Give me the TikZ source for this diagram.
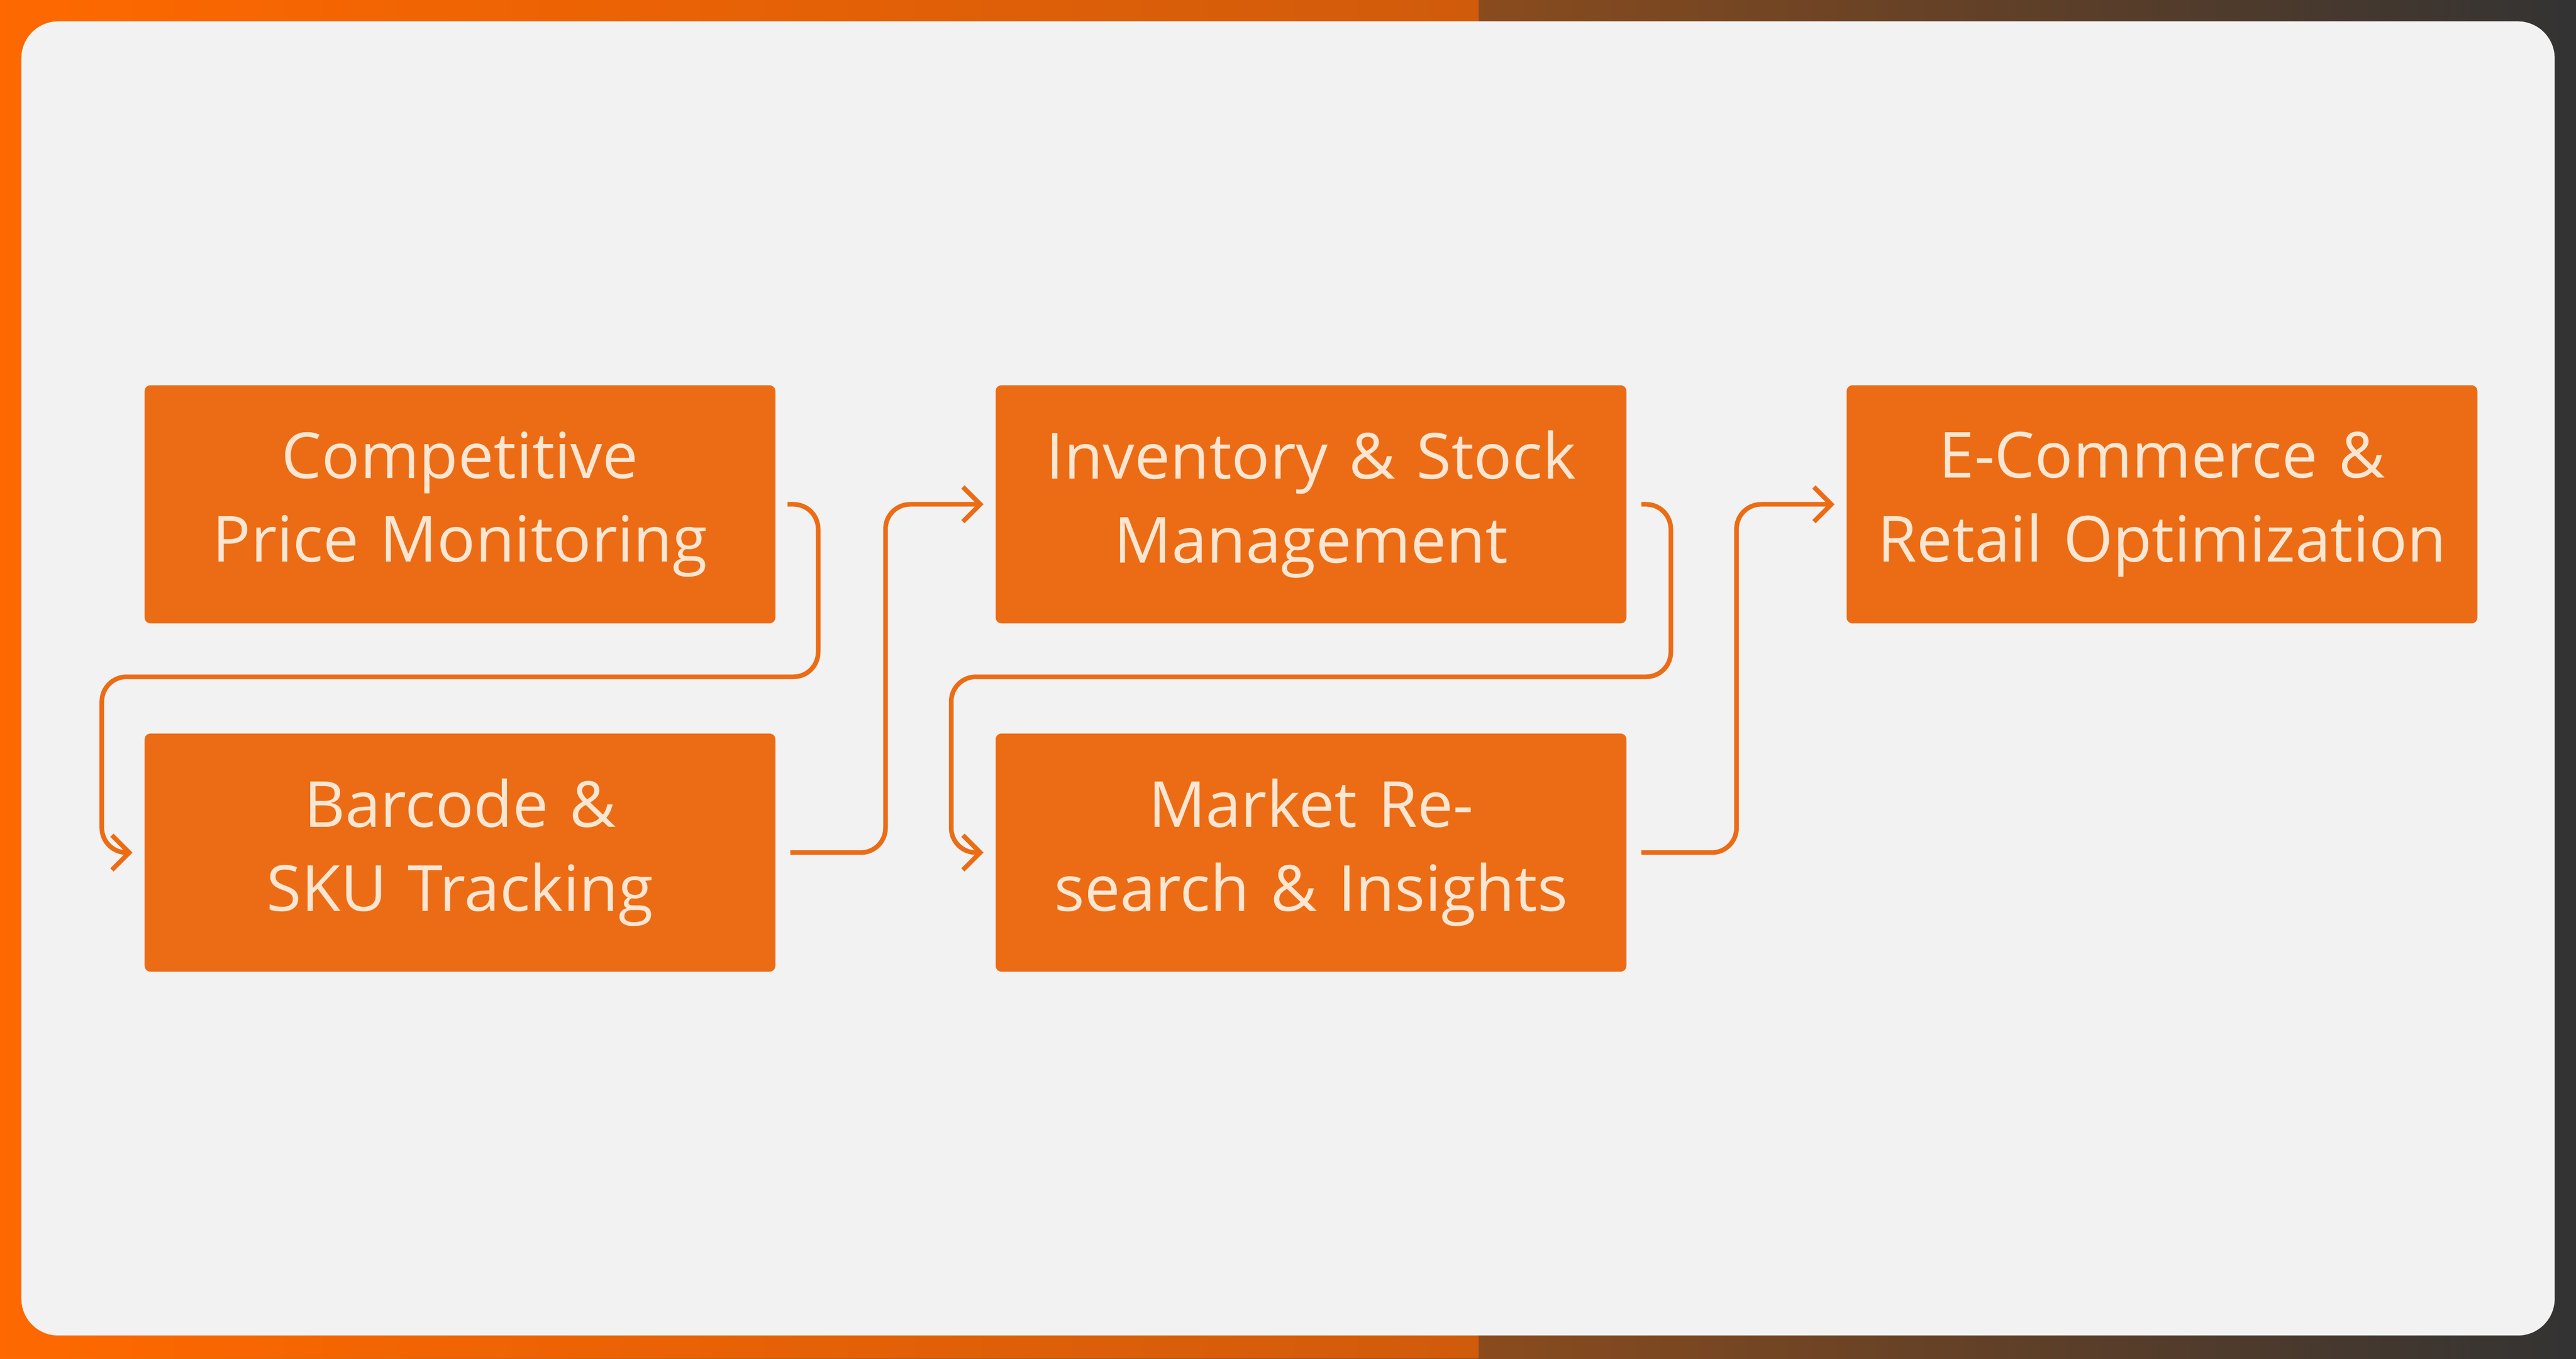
\documentclass[tikz,border=0pt]{standalone}
\usepackage{fontspec}
\setmainfont{Open Sans}
\usetikzlibrary{arrows.meta}
\definecolor{boxorange}{HTML}{EC6C15}
\definecolor{paneltone}{HTML}{F2F2F2}
\definecolor{textcream}{HTML}{FCE6D2}
\tikzset{
  stagebox/.style={fill=boxorange, rounded corners=2pt, minimum width=7.68cm,
    minimum height=2.9cm, text width=7cm, align=center, text=textcream,
    font=\fontsize{22}{29}\selectfont, inner sep=0pt},
  flowline/.style={draw=boxorange, line width=1.6pt, rounded corners=0.3cm,
    -{Straight Barb[length=6pt,width=12pt,line width=1.6pt]}}
}
\begin{document}
\begin{tikzpicture}[x=0.02cm,y=-0.02cm]
  \useasboundingbox (0,0) rectangle (1568,827);
  \shade[left color=orange!85!red, right color=black!80] (0,0) rectangle (1568,827);
  \fill[orange!80!red, opacity=0.6] (0,0) rectangle (900,827);
  \fill[paneltone, rounded corners=0.45cm] (13,13) rectangle (1555,813);

  \node[stagebox] (price) at (280,307) {Competitive Price Monitoring};
  \node[stagebox] (barcode) at (280,519) {Barcode \& SKU Tracking};
  \node[stagebox] (stock) at (798,307) {Inventory \& Stock Management};
  \node[stagebox] (market) at (798,519) {Market Research \& Insights};
  \node[stagebox] (retail) at (1316,307) {E-Commerce \& Retail Optimization};

  \draw[flowline] ([xshift=4pt]price.east) -| (498,412) -| (62,519) -- ([xshift=-4pt]barcode.west);
  \draw[flowline] ([xshift=5pt]barcode.east) -| (539,412) |- ([xshift=-4pt]stock.west);
  \draw[flowline] ([xshift=5pt]stock.east) -| (1017,412) -| (579,519) -- ([xshift=-4pt]market.west);
  \draw[flowline] ([xshift=5pt]market.east) -| (1057,412) |- ([xshift=-4pt]retail.west);
\end{tikzpicture}
\end{document}
